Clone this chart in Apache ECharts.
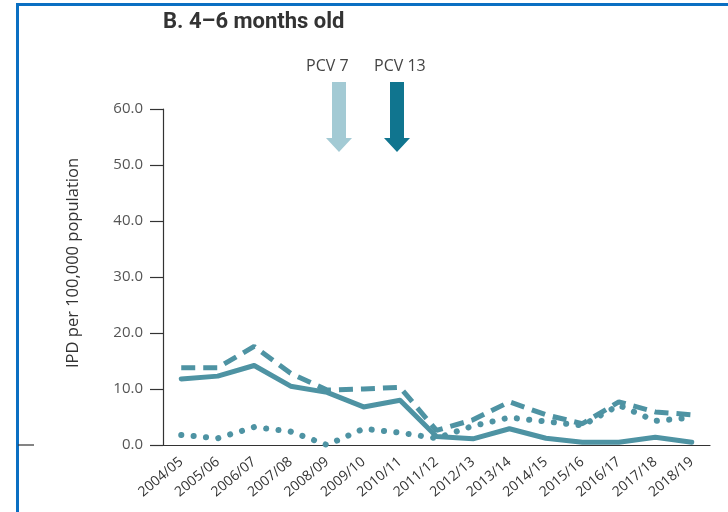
<!DOCTYPE html>
<html>
<head>
<meta charset="utf-8">
<script src="https://cdn.jsdelivr.net/npm/echarts@6/dist/echarts.min.js"></script>
<style>
  html, body { margin: 0; padding: 0; background: #fff; }
  #chart { width: 728px; height: 512px; }
</style>
</head>
<body>
<div id="chart"></div>
<script>
// IPD incidence, infants 4–6 months old, by epidemiological season
const seasons = ['2004/05', '2005/06', '2006/07', '2007/08', '2008/09', '2009/10', '2010/11',
  '2011/12', '2012/13', '2013/14', '2014/15', '2015/16', '2016/17', '2017/18', '2018/19'];
const allIpd = [11.8, 12.3, 14.2, 10.5, 9.4, 6.8, 8.0, 1.5, 1.1, 2.9, 1.2, 0.5, 0.5, 1.4, 0.5];
const dashedSeries = [13.8, 13.8, 17.6, 12.8, 9.8, 10.0, 10.3, 2.6, 4.5, 7.7, 5.4, 3.8, 7.7, 5.9, 5.4];
const dottedSeries = [1.8, 1.2, 3.2, 2.4, 0.0, 2.9, 2.2, 1.2, 3.4, 4.9, 4.2, 3.5, 7.1, 4.3, 4.9];
const yTicks = [0, 10, 20, 30, 40, 50, 60];

const teal = '#4e93a3';
const numFont = '"Open Sans", "DejaVu Sans", sans-serif';

const chart = echarts.init(document.getElementById('chart'));

function arrow(cx, color) {
  // downward block arrow: shaft then head
  return {
    type: 'polygon',
    shape: {
      points: [
        [cx - 7, 82], [cx + 7, 82], [cx + 7, 138], [cx + 13, 138],
        [cx, 152], [cx - 13, 138], [cx - 7, 138]
      ]
    },
    style: { fill: color }
  };
}

chart.setOption({
  animation: false,
  backgroundColor: '#fff',
  grid: { left: 163, right: 18, top: 109, bottom: 67 },
  xAxis: {
    type: 'category',
    data: seasons,
    boundaryGap: true,
    axisLine: { lineStyle: { color: '#333', width: 1.2 } },
    axisTick: { show: false },
    axisLabel: {
      rotate: 40, margin: 15, color: '#333', fontSize: 14,
      fontFamily: numFont, interval: 0
    }
  },
  yAxis: {
    type: 'value',
    min: 0, max: 60, interval: 10,
    axisLine: { show: true, lineStyle: { color: '#333', width: 1.2 } },
    axisTick: { show: true, inside: false, length: 13, lineStyle: { color: '#333', width: 1.2 } },
    splitLine: { show: false },
    axisLabel: {
      margin: 20, color: '#555', fontSize: 15, fontFamily: numFont,
      formatter: v => yTicks.includes(v) ? v.toFixed(1) : ''
    }
  },
  series: [
    {
      type: 'line', data: allIpd, symbol: 'none',
      lineStyle: { color: teal, width: 5, join: 'round', cap: 'round' }, z: 3
    },
    {
      type: 'line', data: dashedSeries, symbol: 'none',
      lineStyle: { color: teal, width: 5, type: [14, 8] }, z: 2
    },
    {
      type: 'line', data: dottedSeries, symbol: 'none',
      lineStyle: { color: teal, width: 6, type: [0.1, 12.3], cap: 'round' }, z: 2
    }
  ],
  graphic: [
    // page frame
    { type: 'rect', shape: { x: 16, y: 3, width: 720, height: 3 }, style: { fill: '#0a6fc2' } },
    { type: 'rect', shape: { x: 16, y: 3, width: 3, height: 520 }, style: { fill: '#0a6fc2' } },
    { type: 'line', shape: { x1: 18, y1: 445, x2: 34, y2: 445 }, style: { stroke: '#333', lineWidth: 1.2 } },
    {
      type: 'text', left: 163, top: 11,
      style: {
        text: 'B. 4–6 months old', fill: '#333',
        font: 'bold 22px "Roboto", sans-serif'
      }
    },
    {
      type: 'text', x: 73, y: 263, rotation: Math.PI / 2,
      style: {
        text: 'IPD per 100,000 population', fill: '#333',
        font: '16.5px ' + numFont, align: 'center', verticalAlign: 'middle'
      }
    },
    {
      type: 'text', left: 306, top: 58,
      style: { text: 'PCV 7', fill: '#444', font: '16px ' + numFont }
    },
    {
      type: 'text', left: 374, top: 58,
      style: { text: 'PCV 13', fill: '#444', font: '16px ' + numFont }
    },
    arrow(339, '#a3cad4'),
    arrow(397, '#10758f')
  ]
});
</script>
</body>
</html>
